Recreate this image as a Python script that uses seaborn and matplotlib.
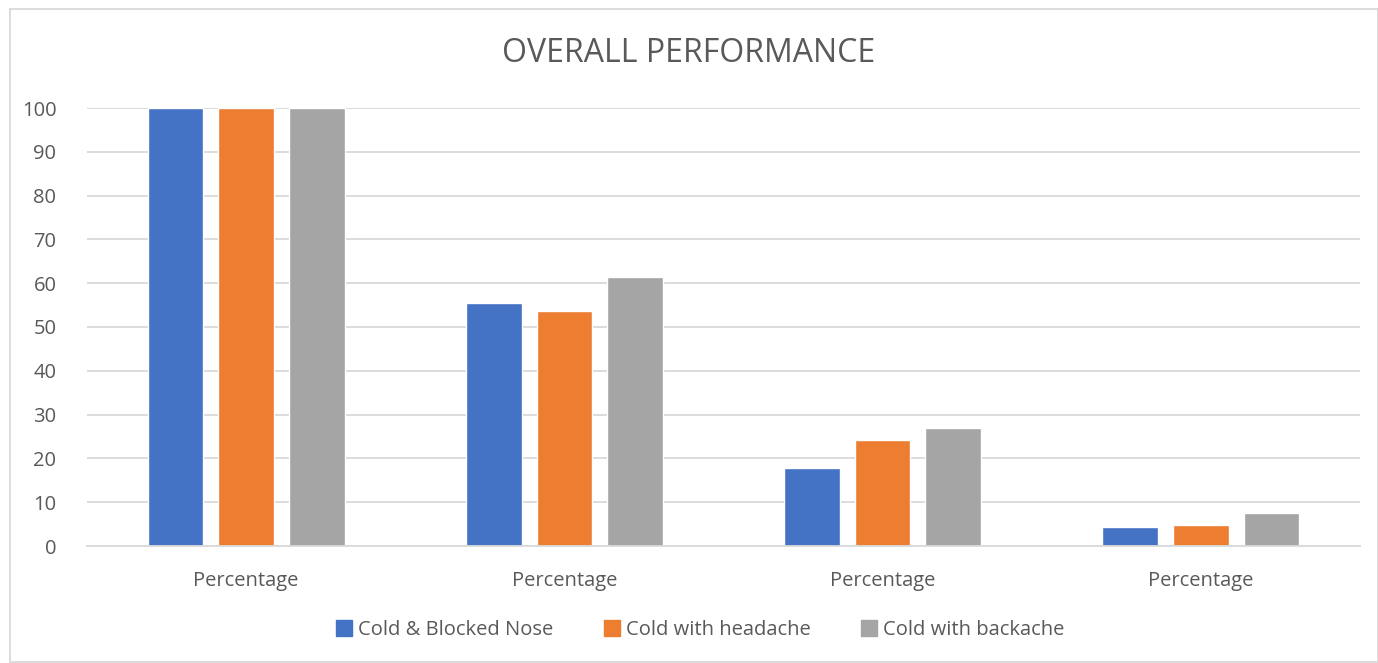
import seaborn as sns
import pandas as pd
from matplotlib import pyplot as plt
from matplotlib.patches import Rectangle

groups = ["g1", "g2", "g3", "g4"]
tick_labels = ["Percentage", "Percentage", "Percentage", "Percentage"]
series = ["Cold & Blocked Nose", "Cold with headache", "Cold with backache"]
blocked_nose = [100, 55.5, 17.7, 4.3]
headache = [100, 53.6, 24.3, 4.8]
backache = [100, 61.4, 26.9, 7.6]
colors = ["#4472C4", "#ED7D31", "#A5A5A5"]

rows = []
for name, vals in zip(series, [blocked_nose, headache, backache]):
    for g, v in zip(groups, vals):
        rows.append({"Group": g, "Value": v, "Series": name})
df = pd.DataFrame(rows)

sns.set_style("white")
plt.rcParams['font.family'] = ['Open Sans', 'DejaVu Sans']
text_color = "#595959"
grid_color = "#D9D9D9"

fig = plt.figure(figsize=(13.78, 6.63), dpi=100)
ax = fig.add_axes([87 / 1378, 1 - 546 / 663, (1360 - 87) / 1378, (546 - 108) / 663])

sns.barplot(data=df, x="Group", y="Value", hue="Series", order=groups,
            hue_order=series, palette=colors, width=0.665, gap=0.21,
            saturation=1, legend=False, ax=ax)

ax.set_ylim(0, 100)
ax.set_xlim(-0.5, 3.5)
ax.set_yticks(range(0, 101, 10))
ax.set_xticks(range(len(groups)))
ax.set_xticklabels(tick_labels)
ax.yaxis.grid(True, color=grid_color, linewidth=1.3)
ax.set_axisbelow(True)
for s in ["top", "right", "left"]:
    ax.spines[s].set_visible(False)
ax.spines["bottom"].set_color(grid_color)
ax.spines["bottom"].set_linewidth(1.3)
ax.tick_params(axis="y", length=0, labelsize=14.5, colors=text_color, pad=22)
ax.tick_params(axis="x", length=0, labelsize=14.5, colors=text_color, pad=18)
ax.set_xlabel("")
ax.set_ylabel("")

fig.text(0.5, 1 - 54 / 663, "OVERALL PERFORMANCE", ha="center", va="center",
         fontsize=23, color=text_color)

# outer chart border
fig.patches.append(Rectangle((10 / 1378, 1 - 662 / 663), 1368 / 1378, 653 / 663,
                             transform=fig.transFigure, fill=False,
                             edgecolor=grid_color, linewidth=1.3))

handles = [Rectangle((0, 0), 1, 1, color=c) for c in colors]
fig.legend(handles, series, loc="center", bbox_to_anchor=(0.508, 1 - 630 / 663),
           ncol=3, frameon=False, fontsize=14.5, handlelength=0.8, handleheight=0.8,
           handletextpad=0.3, columnspacing=2.5, labelcolor=text_color)

fig.savefig("out.png", dpi=100)
